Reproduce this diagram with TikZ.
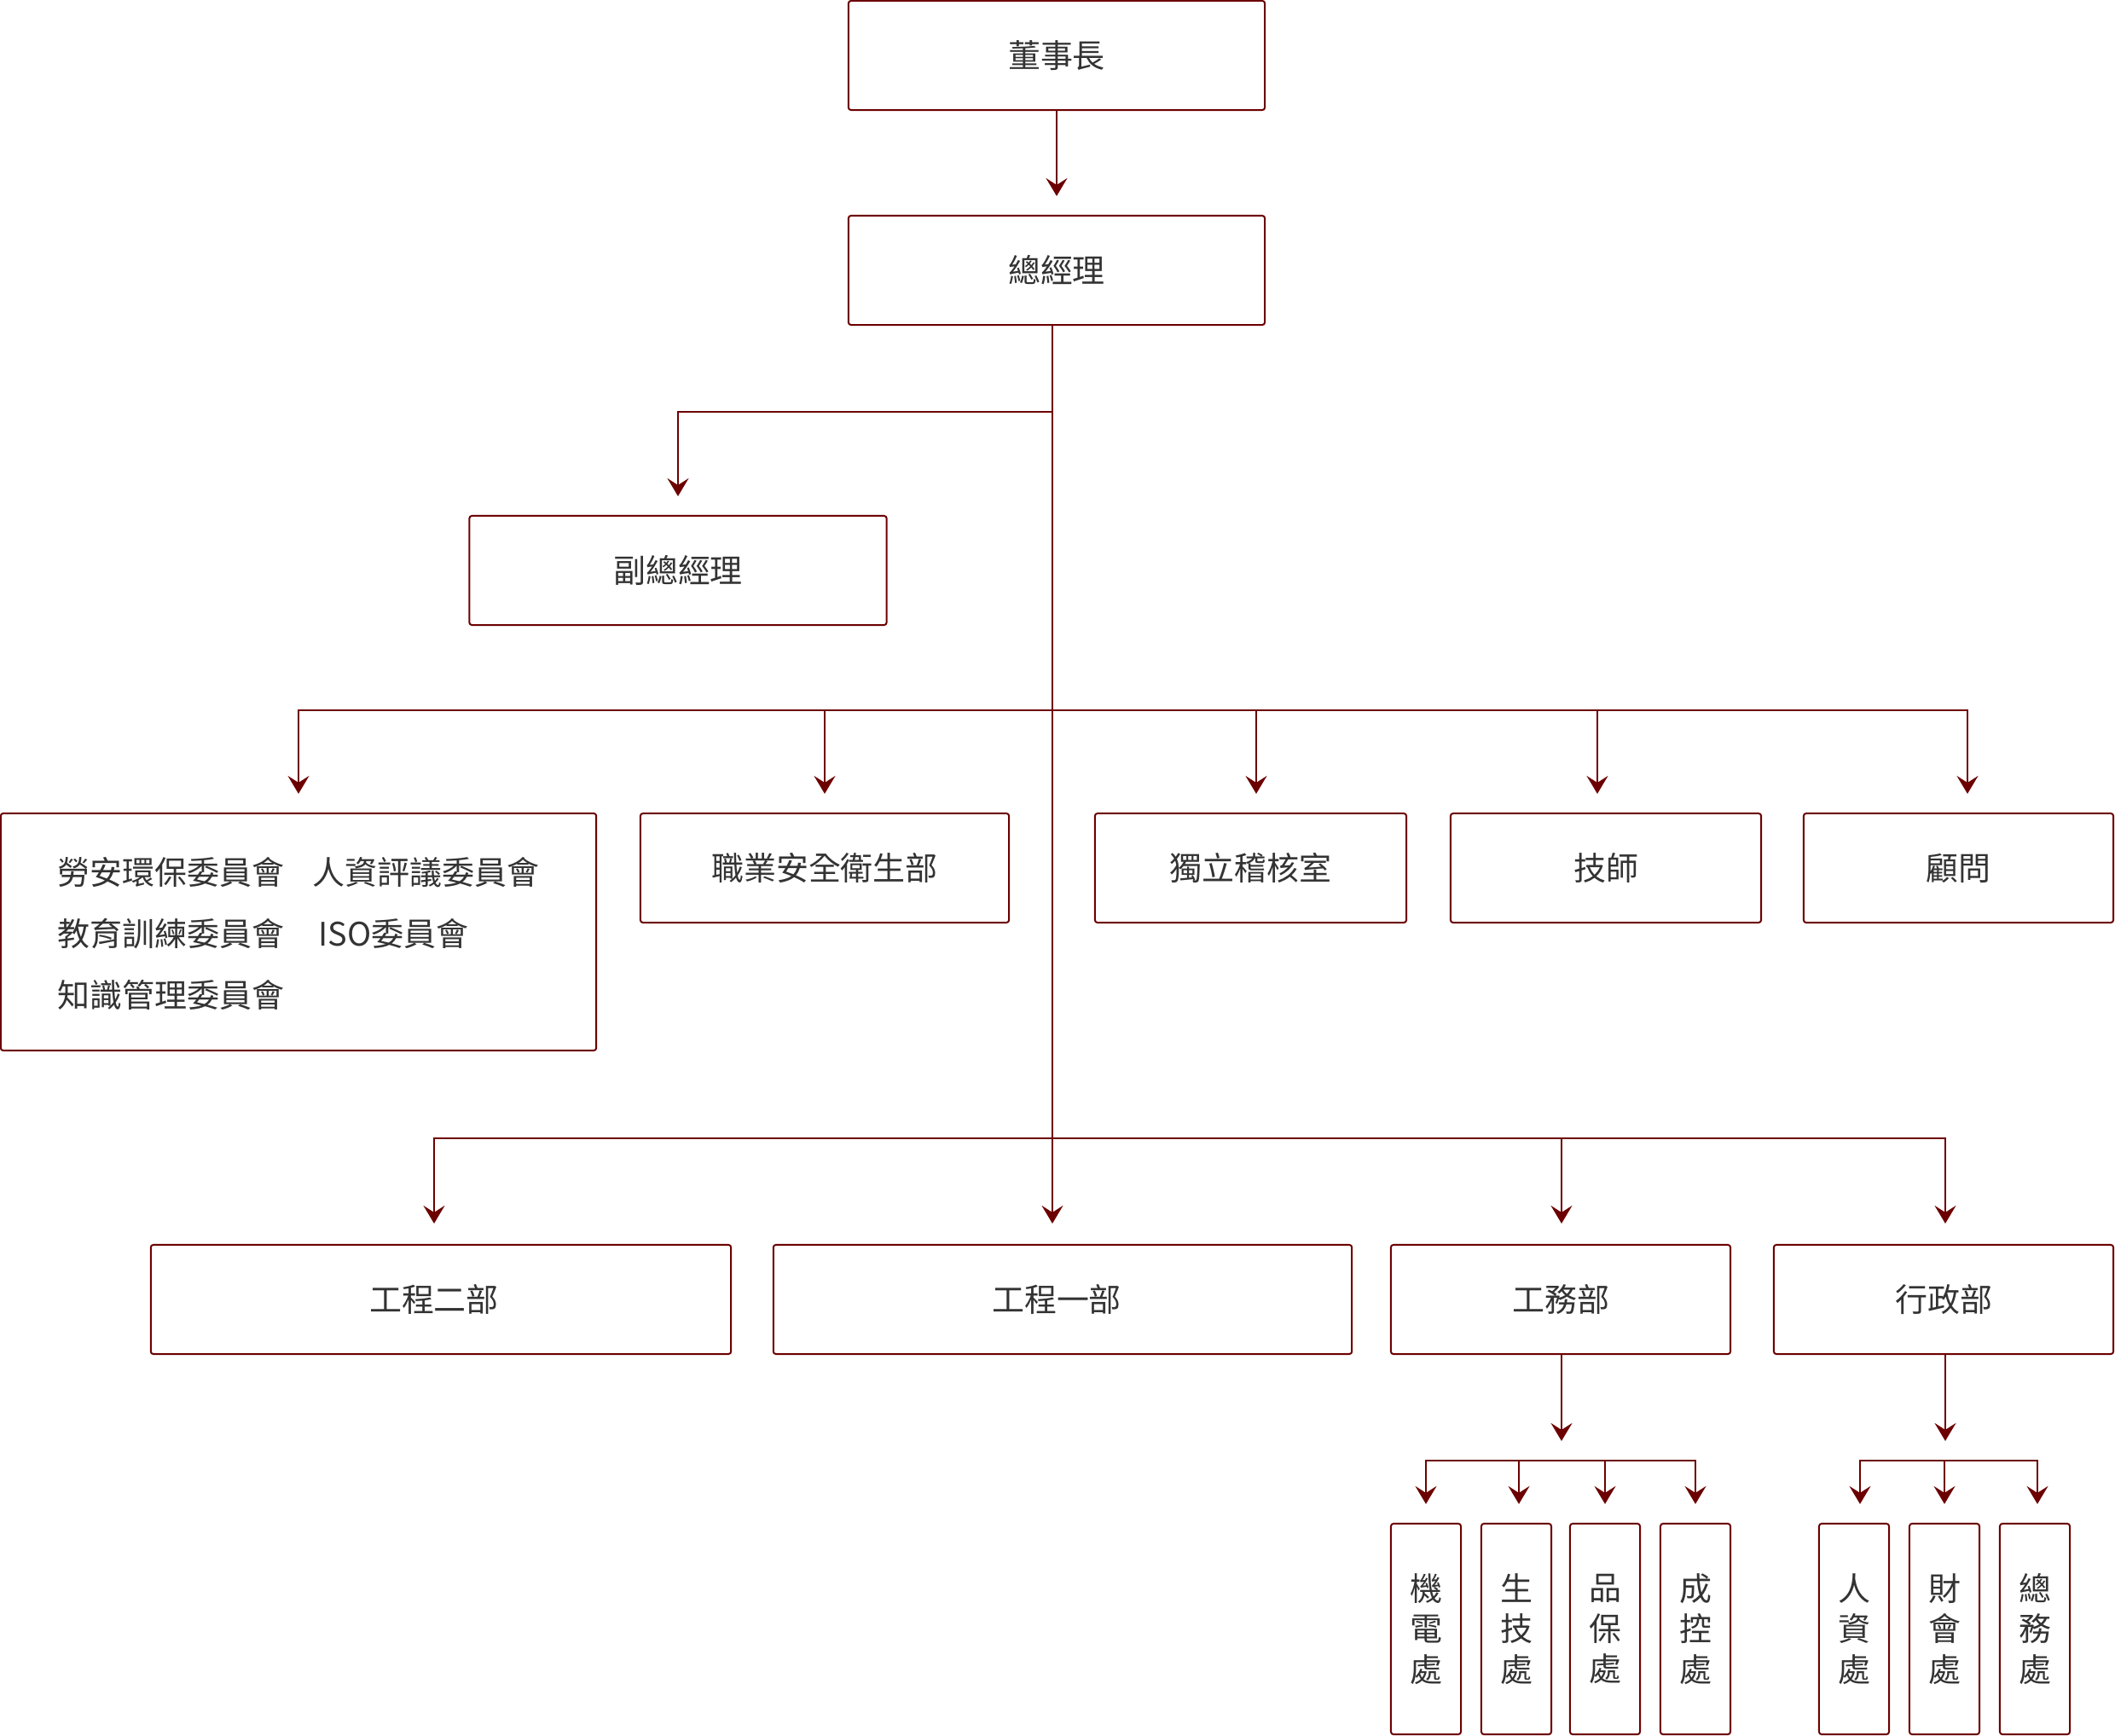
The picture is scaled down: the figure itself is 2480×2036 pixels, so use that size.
\documentclass[tikz,border=0pt]{standalone}
\usepackage{fontspec}
\setmainfont{Noto Sans CJK TC}
\usetikzlibrary{arrows.meta}
\definecolor{lc}{RGB}{108,0,0}
\definecolor{tc}{RGB}{51,51,51}
\begin{document}
\begin{tikzpicture}[x=0.01cm,y=-0.01cm,
  box/.style={draw=lc, line width=0.02cm, rounded corners=0.03cm, inner sep=0pt, text=tc,
    font=\fontsize{10.8pt}{13.5pt}\selectfont, minimum height=1.28cm},
  vbox/.style={box, minimum width=0.82cm, minimum height=2.47cm, align=center},
  ln/.style={draw=lc, line width=0.02cm},
  arr/.style={ln, -{Stealth[length=0.21cm,width=0.25cm,inset=0.08cm]}, shorten >=0.22cm},
  ctext/.style={anchor=west, inner sep=0pt, text=tc, font=\fontsize{10.8pt}{13.5pt}\selectfont}
]
\useasboundingbox (0,0) rectangle (2480,2036);

% top
\node[box, minimum width=4.88cm] (chair) at (1239,65) {董事長};
\node[box, minimum width=4.88cm] (gm) at (1239,317) {總經理};
\node[box, minimum width=4.89cm] (vgm) at (795,669) {副總經理};

% middle row
\node[box, minimum width=6.98cm, minimum height=2.78cm] (comm) at (350,1093) {};
\node[ctext] (c1) at (67,1023) {勞安環保委員會};
\node[ctext] (c2) at (366,1023) {人資評議委員會};
\node[ctext] (c3) at (67,1095) {教育訓練委員會};
\node[ctext] (c4) at (373,1095) {ISO委員會};
\node[ctext] (c5) at (67,1167) {知識管理委員會};
\node[box, minimum width=4.32cm] (osh) at (967,1018) {職業安全衛生部};
\node[box, minimum width=3.65cm] (audit) at (1466.5,1018) {獨立稽核室};
\node[box, minimum width=3.64cm] (tech) at (1883,1018) {技師};
\node[box, minimum width=3.63cm] (adv) at (2296.5,1018) {顧問};

% bottom row
\node[box, minimum width=6.80cm] (eng2) at (517,1524) {\hspace*{-0.16cm}工程二部};
\node[box, minimum width=6.78cm] (eng1) at (1246,1524) {\hspace*{-0.14cm}工程一部};
\node[box, minimum width=3.98cm] (works) at (1830,1524) {工務部};
\node[box, minimum width=3.98cm] (admin) at (2279,1524) {行政部};

% sub units
\node[vbox] (s1) at (1672,1910.5) {機\\電\\處};
\node[vbox] (s2) at (1778,1910.5) {生\\技\\處};
\node[vbox] (s3) at (1882,1910.5) {品\\保\\處};
\node[vbox] (s4) at (1988,1910.5) {成\\控\\處};
\node[vbox] (a1) at (2174,1910.5) {人\\資\\處};
\node[vbox] (a2) at (2280,1910.5) {財\\會\\處};
\node[vbox] (a3) at (2386,1910.5) {總\\務\\處};

% junctions
\coordinate (t1) at (1234,483);
\coordinate (t2) at (1234,833);
\coordinate (t3) at (1234,1335);
\coordinate (wb) at (1831,1713);
\coordinate (ab) at (2281,1713);

% connectors
\draw[arr] (chair) -- (gm);
\draw[arr, shorten >=0.24cm] (gm.south -| t1) -- (eng1.north -| t1);
\draw[arr] (t1) -| (vgm.north);

\draw[arr] (t2) -| (comm.north);
\draw[arr] (t2) -| (osh.north);
\draw[arr] (t2) -| ([xshift=0.065cm]audit.north);
\draw[arr] (t2) -| ([xshift=-0.1cm]tech.north);
\draw[arr] (t2) -| ([xshift=0.105cm]adv.north);

\draw[arr, shorten >=0.24cm] (t3) -| ([xshift=-0.08cm]eng2.north);
\draw[arr, shorten >=0.24cm] (t3) -| ([xshift=0.01cm]works.north);
\draw[arr, shorten >=0.24cm] (t3) -| ([xshift=0.02cm]admin.north);

\draw[arr, shorten >=0.23cm] (works.south -| wb) -- (wb);
\draw[arr] (wb) -| (s1.north);
\draw[arr] (wb) -| ([xshift=0.03cm]s2.north);
\draw[arr] (wb) -| (s3.north);
\draw[arr] (wb) -| (s4.north);

\draw[arr, shorten >=0.23cm] (admin.south -| ab) -- (ab);
\draw[arr] (ab) -| ([xshift=0.07cm]a1.north);
\draw[arr] (ab) -| (a2.north);
\draw[arr] (ab) -| ([xshift=0.03cm]a3.north);
\end{tikzpicture}
\end{document}
